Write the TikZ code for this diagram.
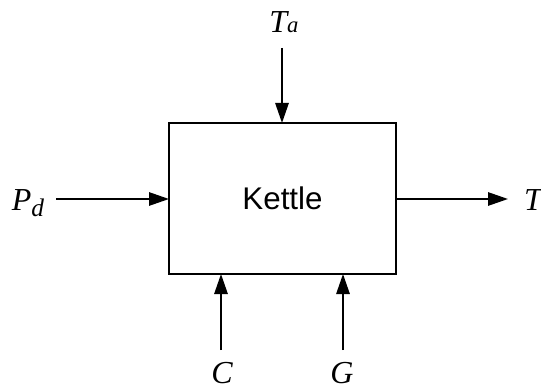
\documentclass[tikz,border=0pt]{standalone}
\usepackage{fontspec}
\setmainfont{Liberation Serif}
\newfontfamily\kettlefont{Liberation Sans}
\usetikzlibrary{arrows.meta}
\begin{document}
\begin{tikzpicture}[x=0.75pt,y=-0.75pt,
  conn/.style={line width=1.4pt,-{Triangle[length=15pt,width=10pt]}},
  lbl/.style={font=\fontsize{24}{26}\selectfont\itshape, inner sep=0pt}]
\useasboundingbox (0,0) rectangle (541,391);
\node[draw, line width=1.4pt, minimum width=227*0.75pt, minimum height=151*0.75pt, inner sep=0pt,
  font=\kettlefont\fontsize{23.5}{26}\selectfont] (kettle) at (282.5,198.5) {Kettle};
\coordinate (ktop) at (282,123);
\coordinate (kleft) at (169,199);
\coordinate (kright) at (396,199);
\coordinate (kbotc) at (221,274);
\coordinate (kbotg) at (343,274);
\coordinate (ta0) at (282,48);
\coordinate (pd0) at (56,199);
\coordinate (t1) at (508,199);
\coordinate (c0) at (221,350);
\coordinate (g0) at (343,350);
\node[lbl] (ta) at (284,22) {T{\fontsize{17}{18}\selectfont a}};
\node[lbl] (pd) at (28,203) {P\raisebox{-0.17em}{\fontsize{19}{20}\selectfont d}};
\node[lbl] (t) at (533,200) {T};
\node[lbl] (c) at (222,373) {C};
\node[lbl] (g) at (342,373) {G};
\draw[conn] (ta0) -- (ktop);
\draw[conn] (pd0) -- (kleft);
\draw[conn] (kright) -- (t1);
\draw[conn] (c0) -- (kbotc);
\draw[conn] (g0) -- (kbotg);
\end{tikzpicture}
\end{document}
